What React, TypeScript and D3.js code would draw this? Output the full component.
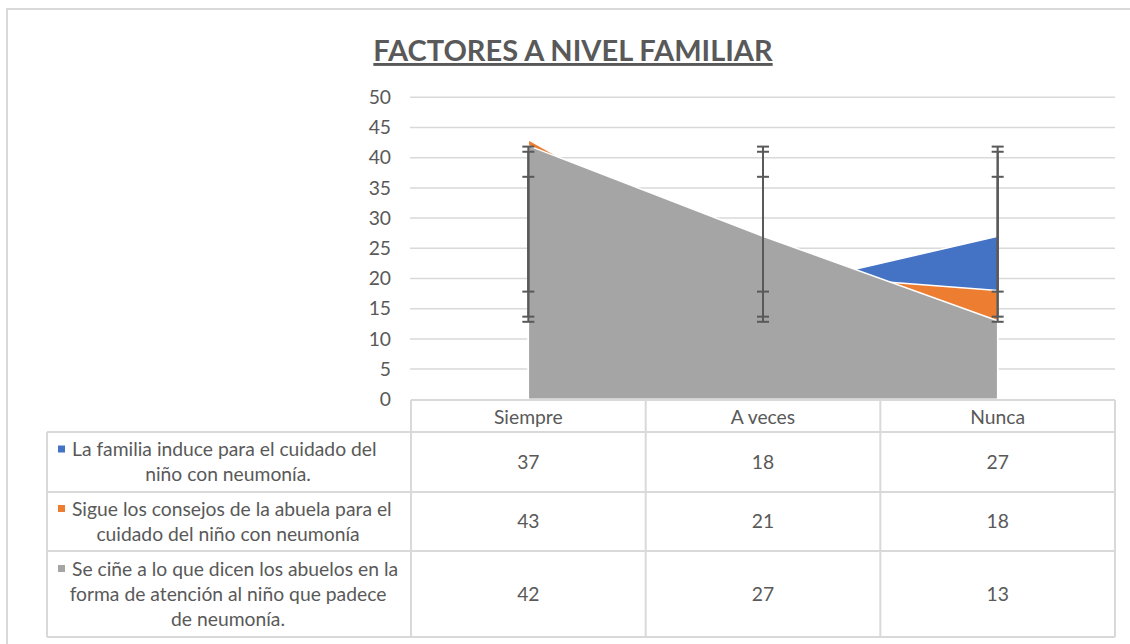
import React from "react";
import * as d3 from "d3";

const title = "FACTORES A NIVEL FAMILIAR";
const categories = ["Siempre", "A veces", "Nunca"];
const seriesNames = [
  ["La familia induce para el cuidado del", "niño con neumonía."],
  ["Sigue los consejos de la abuela para el", "cuidado del niño con neumonía"],
  ["Se ciñe a lo que dicen los abuelos en la", "forma de atención al niño que padece", "de neumonía."],
];
const familiaInduce = [37, 18, 27];
const consejosAbuela = [43, 21, 18];
const seCineAbuelos = [42, 27, 13];
const seriesValues = [familiaInduce, consejosAbuela, seCineAbuelos];
const seriesColors = ["#4472C4", "#ED7D31", "#A5A5A5"];
const yTicks = [0, 5, 10, 15, 20, 25, 30, 35, 40, 45, 50];

const FONT = "Lato, 'Open Sans', sans-serif";
const TXT = "#595959";
const GRID = "#d9d9d9";
const FS = 19.3;

export default function App() {
  const W = 1130, H = 644;
  const tableLeft = 47, plotLeft = 411, plotRight = 1115;
  const x = d3.scaleBand<string>().domain(categories).range([plotLeft, plotRight]);
  const cx = (c: string) => (x(c) as number) + x.bandwidth() / 2;
  const y = d3.scaleLinear().domain([0, 50]).range([399.3, 97.3]);

  const area = d3
    .area<number>()
    .x((_, i) => cx(categories[i]))
    .y0(y(0))
    .y1((d) => y(d));

  const rowTops = [432, 492, 551, 637];
  const headerTop = 400;
  const lineH = 25;

  return (
    <svg width={W} height={H} style={{ position: "absolute", left: 0, top: 0, background: "#fff" }} fontFamily={FONT}>
      <rect x={7} y={9} width={1140} height={660} fill="#fff" stroke={GRID} strokeWidth={2} />
      <text x={573} y={61} textAnchor="middle" fontSize={29} fontWeight="bold" fill={TXT} textDecoration="underline">
        {title}
      </text>
      {/* gridlines */}
      {yTicks.map((t) => (
        <g key={t}>
          {t > 0 && <line x1={plotLeft - 1} x2={plotRight} y1={y(t)} y2={y(t)} stroke={GRID} strokeWidth={1.5} />}
          <text x={391} y={y(t)} dy="0.35em" textAnchor="end" fontSize={FS} fill={TXT}>
            {t}
          </text>
        </g>
      ))}
      {/* areas */}
      {seriesValues.map((vals, i) => (
        <path key={i} d={area(vals) as string} fill={seriesColors[i]} stroke="#fff" strokeWidth={1.5} strokeLinejoin="round" />
      ))}
      {/* error bars: standard deviation around series mean */}
      {seriesValues.map((vals, i) => {
        const m = d3.mean(vals) as number;
        const sd = d3.deviation(vals) as number;
        return categories.map((c) => (
          <g key={`${i}-${c}`} stroke="#595959" strokeWidth={2}>
            <line x1={cx(c)} x2={cx(c)} y1={y(m - sd)} y2={y(m + sd)} />
            <line x1={cx(c) - 6} x2={cx(c) + 6} y1={y(m - sd)} y2={y(m - sd)} />
            <line x1={cx(c) - 6} x2={cx(c) + 6} y1={y(m + sd)} y2={y(m + sd)} />
          </g>
        ));
      })}
      {/* data table */}
      <g stroke={GRID} strokeWidth={2} fill="none">
        <line x1={plotLeft} x2={plotRight} y1={headerTop} y2={headerTop} />
        {rowTops.map((r) => (
          <line key={r} x1={tableLeft} x2={plotRight} y1={r} y2={r} />
        ))}
        <line x1={tableLeft} x2={tableLeft} y1={rowTops[0]} y2={rowTops[3]} />
        {categories.map((c) => (
          <line key={c} x1={x(c) as number} x2={x(c) as number} y1={headerTop} y2={rowTops[3]} />
        ))}
        <line x1={plotRight} x2={plotRight} y1={headerTop} y2={rowTops[3]} />
      </g>
      {categories.map((c) => (
        <text key={c} x={cx(c)} y={417} dy="0.35em" textAnchor="middle" fontSize={FS} fill={TXT}>
          {c}
        </text>
      ))}
      {seriesValues.map((vals, i) => {
        const top = rowTops[i], bot = rowTops[i + 1];
        const mid = (top + bot) / 2;
        const lines = seriesNames[i];
        const startY = mid - ((lines.length - 1) * lineH) / 2;
        return (
          <g key={i}>
            <rect x={58} y={startY - 4} width={7} height={7} fill={seriesColors[i]} />
            {lines.map((l, j) => (
              <text key={j} x={j === 0 ? 72 : 228} y={startY + j * lineH} dy="0.35em" textAnchor={j === 0 ? "start" : "middle"} fontSize={FS} fill={TXT}>
                {l}
              </text>
            ))}
            {vals.map((v, k) => (
              <text key={k} x={cx(categories[k])} y={mid} dy="0.35em" textAnchor="middle" fontSize={FS} fill={TXT}>
                {v}
              </text>
            ))}
          </g>
        );
      })}
    </svg>
  );
}
